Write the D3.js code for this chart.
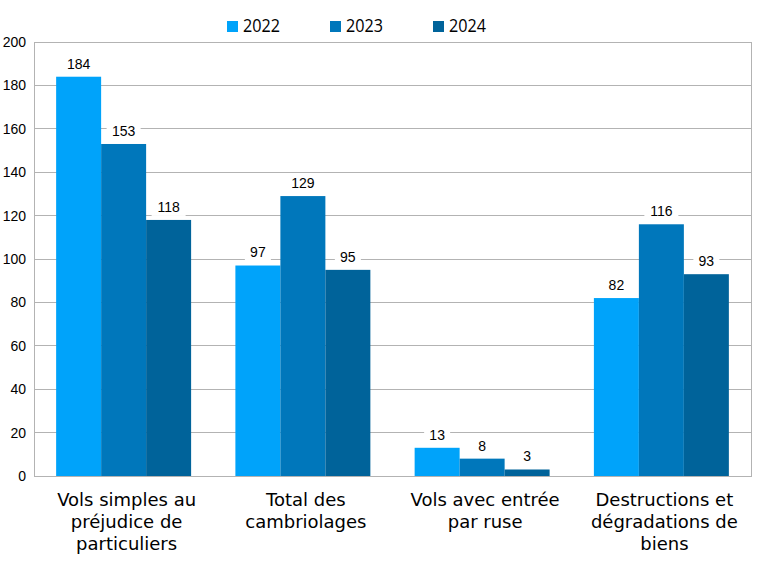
<!DOCTYPE html>
<html><head><meta charset="utf-8">
<script src="https://cdn.jsdelivr.net/npm/d3@7"></script>
<style>body{margin:0;background:#fff}</style>
</head><body>
<svg id="c" width="768" height="565"></svg>
<script>
const categories = [["Vols simples au","préjudice de","particuliers"],["Total des","cambriolages"],["Vols avec entrée","par ruse"],["Destructions et","dégradations de","biens"]];
const seriesNames = ["2022","2023","2024"];
const v2022 = [184, 97, 13, 82];
const v2023 = [153, 129, 8, 116];
const v2024 = [118, 95, 3, 93];
const yTicks = [0,20,40,60,80,100,120,140,160,180,200];
const colors = ["#00a3fa","#0077bb","#00639a"];

const values = [v2022, v2023, v2024];
const svg = d3.select("#c");
const L=34, R=751, T=42, B=476;
const x = d3.scaleBand().domain(d3.range(categories.length)).range([L,R]).paddingInner(0.247).paddingOuter(0.1235);
const xs = d3.scaleBand().domain(seriesNames).range([0, x.bandwidth()]);
const y = d3.scaleLinear().domain([0,200]).range([B,T]);

// grid
svg.append("g").selectAll("line").data(yTicks).join("line")
  .attr("x1",L).attr("x2",R).attr("y1",d=>y(d)).attr("y2",d=>y(d))
  .attr("stroke","#b3b3b3").attr("stroke-width",1).attr("shape-rendering","crispEdges");
svg.append("rect").attr("x",L).attr("y",T).attr("width",R-L).attr("height",B-T)
  .attr("fill","none").attr("stroke","#b3b3b3").attr("shape-rendering","crispEdges");

// y ticks
svg.append("g").selectAll("text").data(yTicks).join("text")
  .attr("x",L-8).attr("y",d=>y(d)).attr("dy","0.35em").attr("text-anchor","end")
  .attr("font-family","Liberation Sans, Arial").attr("font-size",14).attr("fill","#000").text(d=>d);

// bars
const g = svg.append("g");
seriesNames.forEach((s,si)=>{
  g.selectAll(null).data(values[si]).join("rect")
    .attr("x",(d,i)=>x(i)+xs(s)).attr("width",xs.bandwidth())
    .attr("y",d=>y(d)).attr("height",d=>y(0)-y(d)).attr("fill",colors[si]);
});
// labels with white background
seriesNames.forEach((s,si)=>{
  const lg = svg.append("g").selectAll("g").data(values[si]).join("g")
    .attr("transform",(d,i)=>`translate(${x(i)+xs(s)+xs.bandwidth()/2},${y(d)-13})`);
  lg.append("rect").attr("x",d=>-String(d).length*4-5).attr("y",-9)
    .attr("width",d=>String(d).length*8+10).attr("height",18).attr("fill","#fff");
  lg.append("text").attr("text-anchor","middle").attr("dy","0.35em")
    .attr("font-family","Liberation Sans, Arial").attr("font-size",14).attr("fill","#000").text(d=>d);
});

// category labels
categories.forEach((lines,i)=>{
  const t = svg.append("text").attr("text-anchor","middle")
    .attr("font-family","DejaVu Sans").attr("font-size",18).attr("fill","#000");
  lines.forEach((ln,j)=>{
    t.append("tspan").attr("x",x(i)+x.bandwidth()/2+3).attr("y",506+j*22).text(ln);
  });
});

// legend
const legX = [227, 330, 433];
seriesNames.forEach((s,si)=>{
  svg.append("rect").attr("x",legX[si]).attr("y",21).attr("width",11).attr("height",11).attr("fill",colors[si]);
  svg.append("text").attr("x",legX[si]+16).attr("y",32)
    .attr("font-family","Open Sans").attr("font-size",17.5).attr("textLength",37).attr("lengthAdjust","spacingAndGlyphs")
    .attr("fill","#000").text(s);
});
</script>
</body></html>
